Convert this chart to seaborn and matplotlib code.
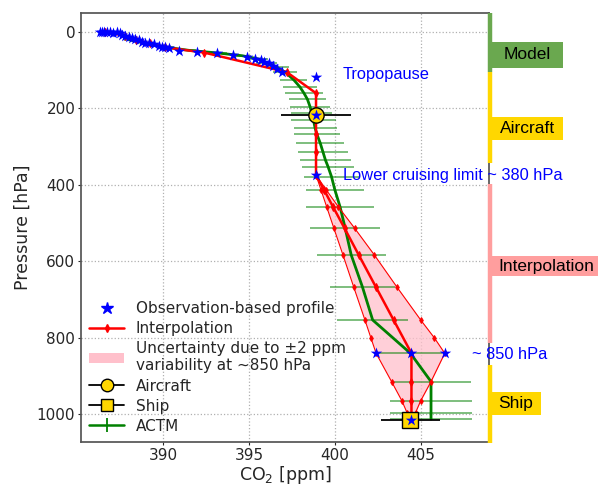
import numpy as np
import pandas as pd
import seaborn as sns
import matplotlib.pyplot as plt
from matplotlib.lines import Line2D
from matplotlib.patches import Patch, Rectangle

# Observation-based profile (blue stars)
obs_co2 = [386.30, 386.43, 386.57, 386.73, 386.88, 387.07, 387.31, 387.46, 387.60,
           387.79, 387.98, 388.18, 388.37, 388.56, 388.76, 388.95, 389.15, 389.44,
           389.73, 389.92, 390.12, 390.31, 390.89, 391.96, 393.12, 394.09, 394.90,
           395.35, 395.68, 395.87, 396.18, 396.41, 396.65, 396.90,
           398.9, 398.9, 398.9, 402.4, 404.46, 406.4, 404.46]
obs_p = [0, 0, 0, 0, 1, 2, 0, 3.5, 8, 10.5, 14, 16.6, 19, 22, 25, 28, 30, 32,
         36.6, 38, 40, 42.7, 49, 51.5, 55.8, 60, 64.5, 70.6, 73.2, 78.4, 82,
         88.9, 97.6, 104.6,
         117, 217, 374, 840, 840, 840, 1014]

# Interpolated profile (central)
interp_co2 = [386.6, 387.8, 388.4, 389.2, 390.1, 392.4, 397.2, 398.9, 398.9, 398.9,
              398.9, 398.9, 399.37, 399.89, 400.56, 401.39, 402.38, 403.42, 404.46,
              404.46, 404.46, 404.46]
interp_p = [0, 10, 20, 30, 40, 54, 105, 160, 212, 267, 313, 374, 413, 457, 513,
            583, 666, 753, 840, 914, 964, 1014]

# Uncertainty envelope (+/-2 ppm at ~850 hPa)
band_p = [374, 413, 457, 513, 583, 666, 753, 800, 840, 914, 964, 995, 1014]
band_low = [398.9, 399.19, 399.52, 399.94, 400.47, 401.09, 401.75, 402.1, 402.4,
            403.3, 403.9, 404.2, 404.46]
band_high = [398.9, 399.5, 400.2, 401.15, 402.3, 403.6, 405.0, 405.8, 406.4,
             405.6, 405.0, 404.7, 404.46]

# ACTM model profile
actm_p = [20, 30, 40, 48, 55, 62, 70, 80, 92, 105, 125, 143, 160, 176, 195, 212,
          230, 252, 267, 291, 313, 335, 352, 378, 413, 457, 513, 583, 666, 753,
          840, 914, 964, 995, 1012]
actm_co2 = [388.0, 389.0, 390.2, 391.5, 393.2, 394.6, 395.5, 396.0, 396.6, 397.1,
            397.6, 397.95, 398.2, 398.4, 398.55, 398.65, 398.75, 398.85, 398.95,
            399.15, 399.3, 399.45, 399.6, 399.8, 400.0, 400.3, 400.6, 400.95,
            401.6, 402.2, 404.4, 405.6, 405.6, 405.6, 405.6]
actm_err = [0.3, 0.3, 0.4, 0.4, 0.5, 0.5, 0.6, 0.6, 0.7, 0.7, 0.8, 1.0, 1.1, 1.1,
            1.15, 1.2, 1.3, 1.25, 1.35, 1.4, 1.45, 1.5, 1.5, 1.6, 1.7, 2.0, 2.05,
            2.0, 1.9, 2.05, 1.85, 2.3, 2.4, 2.4, 2.4]

# Aircraft and ship observations
aircraft_co2, aircraft_p, aircraft_err = 398.9, 217, 2.05
ship_co2, ship_p, ship_err = 404.4, 1014, 1.7

# Right-hand segments: label, top, bottom, colour
seg_labels = ['Model', 'Aircraft', 'Interpolation', 'Ship']
seg_top = [-50, 105, 397, 870]
seg_bottom = [105, 343, 813, 1075]
seg_colors = ['#6aa84f', '#ffd700', '#ff9e9e', '#ffd700']

sns.set_theme(style='ticks')
plt.rcParams['font.family'] = ['DejaVu Sans']

fig = plt.figure(figsize=(5.99, 4.86), dpi=100)
ax = fig.add_axes([0.135, 0.0905, 0.682, 0.883])

# ACTM with error bars
ax.errorbar(actm_co2, actm_p, xerr=actm_err, fmt='none', ecolor='green',
            elinewidth=1.3, alpha=0.55, zorder=2)
sns.lineplot(x=actm_co2, y=actm_p, sort=False, estimator=None, color='green',
             lw=2, ax=ax, zorder=3)

# uncertainty band
ax.fill_betweenx(band_p, band_low, band_high, color='pink', alpha=0.75,
                 lw=0, zorder=1)
for edge in (band_low, band_high):
    sns.lineplot(x=edge, y=band_p, sort=False, estimator=None, color='red',
                 lw=0.8, marker='d', ms=3, mec='red', ax=ax, zorder=4)

sns.lineplot(x=interp_co2, y=interp_p, sort=False, estimator=None, color='red',
             lw=1.8, marker='d', ms=4, mec='red', ax=ax, zorder=5)

# aircraft and ship
ax.errorbar(aircraft_co2, aircraft_p, xerr=aircraft_err, fmt='o', color='black',
            mfc='#ffd700', mec='black', ms=11, elinewidth=1.3, zorder=6)
ax.errorbar(ship_co2, ship_p, xerr=ship_err, fmt='s', color='black',
            mfc='#ffd700', mec='black', ms=11, elinewidth=1.3, zorder=6)

sns.scatterplot(x=obs_co2, y=obs_p, marker='*', s=75, color='blue',
                edgecolor='blue', linewidth=0, ax=ax, zorder=7)

ax.set_xlim(385.2, 409)
ax.set_ylim(1072, -50)
ax.set_xticks([390, 395, 400, 405])
ax.set_yticks([0, 200, 400, 600, 800, 1000])
ax.tick_params(labelsize=11, length=2, width=0.8, pad=2)
ax.grid(True, ls=':', color='#b0b0b0', lw=0.9)
for sp in ax.spines.values():
    sp.set_color('#555555')
ax.set_xlabel('CO$_2$ [ppm]', fontsize=12.5, labelpad=1)
ax.set_ylabel('Pressure [hPa]', fontsize=12.5, labelpad=4)

# annotations
note_font = dict(family=['Liberation Sans', 'DejaVu Sans'], fontsize=11.8,
                 color='blue', va='center', ha='left')
ax.text(400.47, 112, 'Tropopause', **note_font)
ax.text(400.47, 376, 'Lower cruising limit ~ 380 hPa', **note_font)
ax.text(407.97, 842, '~ 850 hPa', **note_font)

# right-hand segment bars and labels
trans = ax.get_yaxis_transform()
box_right = [1.179, 1.179, 1.267, 1.127]
box_span = [(26, 94), (222, 282), (586, 638), (941, 1001)]
text_x = [1.034, 1.025, 1.022, 1.022]
for lab, t, b, c, br, (bt, bb), tx in zip(seg_labels, seg_top, seg_bottom,
                                          seg_colors, box_right, box_span, text_x):
    ax.plot([1.002, 1.002], [t, b], color=c, lw=3.2, transform=trans,
            clip_on=False, solid_capstyle='butt', zorder=8)
    ax.add_patch(Rectangle((1.0, bt), br - 1.0, bb - bt, transform=trans,
                           facecolor=c, edgecolor='none', clip_on=False,
                           zorder=8))
    ax.text(tx, (bt + bb) / 2, lab, transform=trans, ha='left', va='center',
            fontsize=12.5, family=['Liberation Sans', 'DejaVu Sans'],
            color='black', zorder=9)

handles = [
    Line2D([], [], ls='none', marker='*', ms=9, color='blue'),
    Line2D([], [], color='red', lw=1.8, marker='d', ms=4),
    Patch(facecolor='pink', edgecolor='none'),
    Line2D([], [], color='black', lw=1.3, marker='o', mfc='#ffd700', mec='black', ms=9),
    Line2D([], [], color='black', lw=1.3, marker='s', mfc='#ffd700', mec='black', ms=9),
    Line2D([], [], color='green', lw=1.8, marker='|', ms=10, mew=1.3),
]
labels = ['Observation-based profile', 'Interpolation',
          'Uncertainty due to \u00b12 ppm\nvariability at ~850 hPa',
          'Aircraft', 'Ship', 'ACTM']
ax.legend(handles, labels, loc='lower left', frameon=False, fontsize=11,
          bbox_to_anchor=(0.0, 0.0), handlelength=2.3, handletextpad=0.75,
          labelspacing=0.33, borderaxespad=0.15)

fig.savefig('out.png', dpi=100)
